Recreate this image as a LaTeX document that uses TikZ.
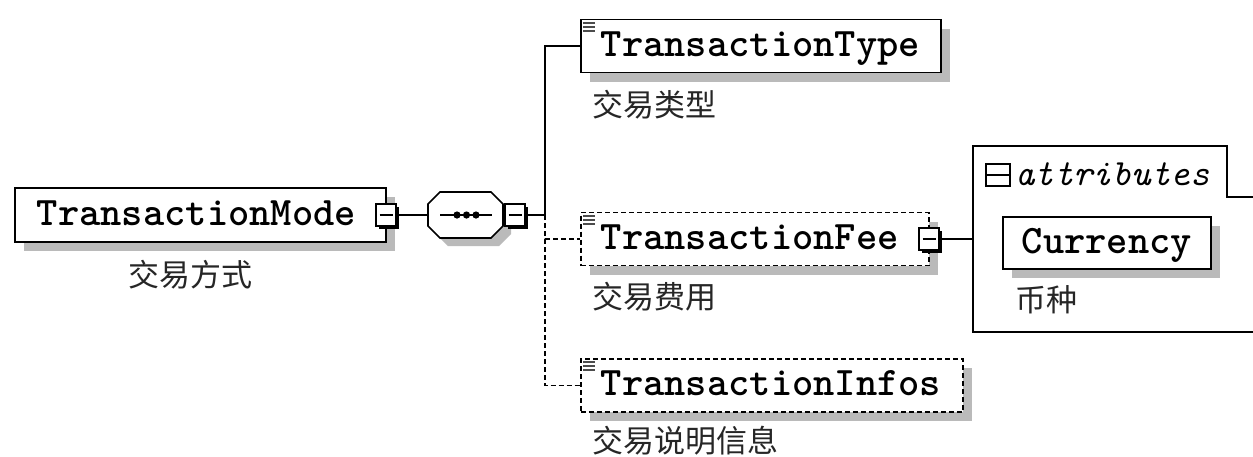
\documentclass[tikz,border=0pt]{standalone}
\usepackage{fontspec}
\newfontfamily\cjk{Noto Sans CJK SC}
\usetikzlibrary{shadows,calc}
\newcommand\elemfont{\fontsize{40.5}{40.5}\selectfont\ttfamily\bfseries}
\newcommand\attrfont{\fontsize{37}{37}\selectfont\ttfamily\itshape}
\newcommand\capfont{\fontsize{31}{31}\selectfont\cjk}
\begin{document}
\begin{tikzpicture}[x=1pt,y=-1pt,
  elem/.style={draw, line width=1.8pt, fill=white, anchor=west, inner xsep=20pt, inner ysep=0pt,
    minimum height=53pt, align=left, font=\elemfont, text height=23pt, text depth=3pt,
    drop shadow={shadow xshift=9pt, shadow yshift=-9pt, fill=black!27, opacity=1}},
  optelem/.style={elem, dash pattern=on 5pt off 3pt},
  capt/.style={anchor=west, inner sep=0pt, font=\capfont, text=black!85},
  expander/.style={draw, line width=1.6pt, fill=white, minimum width=20pt, minimum height=22pt, inner sep=0pt,
    drop shadow={shadow xshift=2.5pt, shadow yshift=-2.5pt, fill=black, opacity=1},
    path picture={\draw[line width=1.6pt] ([xshift=3.5pt]path picture bounding box.west) -- ([xshift=-3.5pt]path picture bounding box.east);}},
  conn/.style={line width=1.7pt},
  dconn/.style={line width=1.7pt, dash pattern=on 5pt off 3pt},
  icon/.style={line width=1.1pt, black!70}
]
\useasboundingbox[fill=white] (0,0) rectangle (1253,456);

% root element
\node[elem, text width=327pt, inner xsep=22pt, minimum height=54pt] (tm) at (14,215) {TransactionMode};
\node[expander] (tmx) at (386,215) {};
\node[capt] (tmc) at (128,275) {交易方式};

% sequence compositor
\fill[black!27] (436,212) -- (448,200) -- (499,200) -- (511,212) -- (511,234) -- (499,246) -- (448,246) -- (436,234) -- cycle;
\draw[conn, fill=white] (428,204) -- (440,192) -- (491,192) -- (503,204) -- (503,226) -- (491,238) -- (440,238) -- (428,226) -- cycle;
\path node[minimum width=75pt, minimum height=46pt, inner sep=0pt] (seq) at (465.5,215) {};
\draw[line width=1.4pt] (440,215) -- (492,215);
\foreach \dx in {457,466.5,476} \fill (\dx,215) circle (3.6);
\node[expander] (seqx) at (515,215) {};

% children
\node[elem, text width=320pt] (tt) at (580,46) {TransactionType};
\node[capt] (ttc) at (592,105) {交易类型};
\node[optelem, text width=308pt] (tf) at (580,239) {TransactionFee};
\node[expander] (tfx) at (929,239) {};
\node[capt] (tfc) at (592,297) {交易费用};
\node[optelem, text width=342pt] (ti) at (580,385.5) {TransactionInfos};
\node[capt] (tic) at (592,441) {交易说明信息};

% documentation icons
\foreach \bx/\by in {583/23, 583/216, 583/362} {
  \draw[icon] (\bx,\by) -- +(12,0);
  \draw[icon] (\bx,\by+4) -- +(12,0);
  \draw[icon] (\bx,\by+8) -- +(12,0);
}

% connectors
\coordinate (bus) at (545,215);
\draw[conn] (tmx.east) -- (seq.west);
\draw[conn] (seqx.east) -- (bus);
\draw[conn] (bus) |- (tt.west);
\draw[dconn] (bus) |- (tf.west);
\draw[dconn] (bus) |- (ti.west);

% attributes group
\coordinate (attrL) at (973,239);
\draw[conn] (tfx.east) -- (attrL);
\draw[line width=1.7pt] (1253,197) -- (1227,197) -- (1227,146) -- (973,146) -- (973,332) -- (1253,332);
\draw[line width=1.8pt] (986,164) rectangle (1010,186);
\draw[line width=1.8pt] (986,175) -- (1010,175);
\node[anchor=west, inner sep=0pt, font=\attrfont] (attrh) at (1015,174) {attributes};
\node[elem, text width=170pt, inner xsep=19pt, minimum height=52pt] (cur) at (1002,243) {Currency};
\node[capt] (curc) at (1015,300) {币种};
\end{tikzpicture}
\end{document}
